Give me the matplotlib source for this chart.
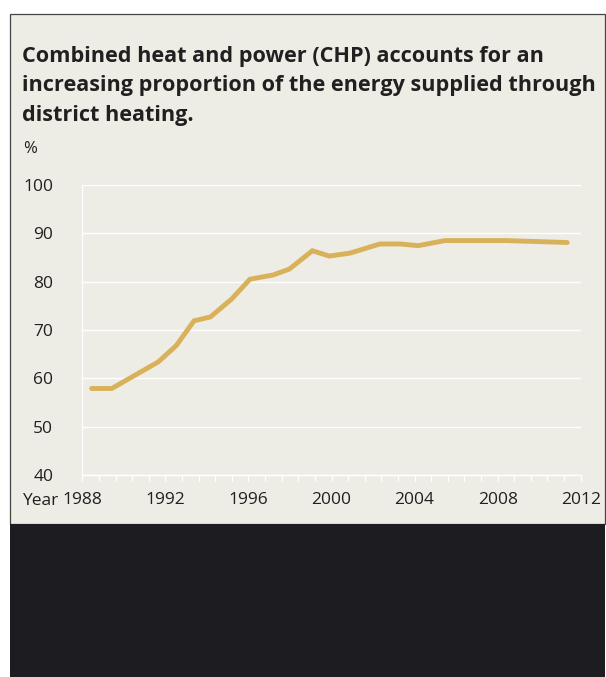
import numpy as np
import matplotlib
matplotlib.use("Agg")
import matplotlib.pyplot as plt
from matplotlib.patches import Rectangle

# line vertices (year position, % of DH supplied by CHP)
years = [1988.45, 1989.42, 1991.66, 1992.53, 1993.38, 1994.17, 1995.19, 1996.07,
         1997.2, 1997.97, 1999.08, 1999.89, 2000.89, 2002.33, 2003.3, 2004.18,
         2005.46, 2008.43, 2011.35]
chp_share = [57.9, 57.9, 63.4, 66.8, 71.9, 72.7, 76.4, 80.5,
             81.4, 82.6, 86.4, 85.3, 85.9, 87.8, 87.8, 87.45,
             88.5, 88.5, 88.1]

y_ticks = [40, 50, 60, 70, 80, 90, 100]
x_ticks = [1988, 1992, 1996, 2000, 2004, 2008, 2012]
x_ticklabels = ["1988", "1992", "1996", "2000", "2004", "2008", "2012"]

title_lines = ["Combined heat and power (CHP) accounts for an",
               "increasing proportion of the energy supplied through",
               "district heating."]

PANEL = "#EDECE5"
DARK = "#1D1C21"
TEXT = "#231F20"
GOLD = "#D8B15A"
FONT = ["Open Sans", "DejaVu Sans"]

W, H = 606, 677
plt.rcParams["font.family"] = FONT

fig = plt.figure(figsize=(W / 100, H / 100), dpi=100)
fig.patch.set_facecolor("white")

def px(x, y):
    # pixel coords (from top-left) to figure fraction
    return x / W, 1 - y / H

# light panel and dark strip underneath
x0, y0 = px(9.5, 524)
fig.add_artist(Rectangle((x0, y0), (604.5 - 9.5) / W, (524 - 13.5) / H,
                         transform=fig.transFigure, facecolor=PANEL,
                         edgecolor="#444444", linewidth=0.9, zorder=0))
xd, yd = px(9.5, 677)
fig.add_artist(Rectangle((xd, yd), (604.5 - 9.5) / W, (677 - 524) / H,
                         transform=fig.transFigure, facecolor=DARK,
                         edgecolor="none", zorder=0))

# title
for line, base in zip(title_lines, [62, 91.5, 121]):
    tx, ty = px(22, base)
    fig.text(tx, ty, line, fontsize=15.6, fontweight="bold", color=TEXT,
             va="baseline", ha="left")

tx, ty = px(23, 149)
fig.text(tx, ty, "%", fontsize=12, color=TEXT, va="center", ha="left")

# axes: x 82.3..580.7 px, y 185..475 px
left, bottom = px(82.3, 475)
ax = fig.add_axes([left, bottom, 498.4 / W, 290 / H])
ax.set_facecolor("none")
ax.plot(years, chp_share, color=GOLD, linewidth=3.5, solid_capstyle="round",
        solid_joinstyle="miter", zorder=3)

ax.set_xlim(1988, 2012)
ax.set_ylim(40, 100)
ax.set_yticks(y_ticks)
ax.set_yticklabels([str(v) for v in y_ticks])
ax.set_xticks(x_ticks)
ax.set_xticklabels(x_ticklabels)
ax.set_xticks(np.linspace(1988, 2012, 31), minor=True)

ax.grid(axis="y", color="white", linewidth=1.0, zorder=1)
ax.set_axisbelow(True)
for side in ["top", "right"]:
    ax.spines[side].set_visible(False)
for side in ["left", "bottom"]:
    ax.spines[side].set_color("white")
    ax.spines[side].set_linewidth(1.0)

ax.tick_params(axis="y", length=0, pad=21, labelsize=12.5, labelcolor=TEXT)
ax.tick_params(axis="x", which="both", direction="out", length=4.5, width=1.0,
               color="white", labelsize=12.5, labelcolor=TEXT, pad=7.5)

# "Year" in front of the first tick label
yx, yy = px(58, 501)
fig.text(yx, yy, "Year", fontsize=12.5, color=TEXT, ha="right", va="center")

fig.savefig("out.png", dpi=100, facecolor="white")
